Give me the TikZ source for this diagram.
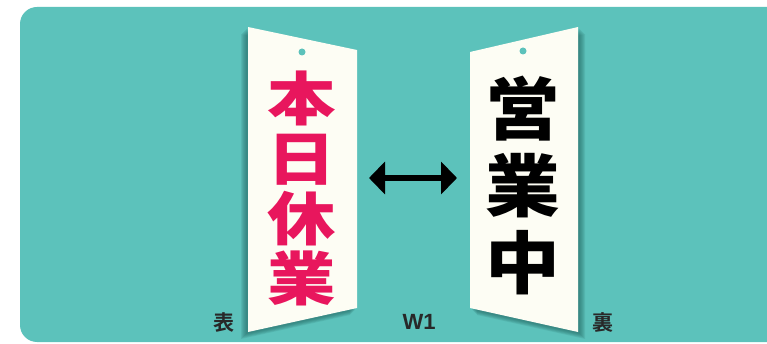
\documentclass[tikz,border=0pt]{standalone}
\usepackage{fontspec}
\usetikzlibrary{arrows.meta}
\usetikzlibrary{positioning}
\newfontfamily\signfont{Noto Sans CJK JP Black}[FakeStretch=1.18]
\newfontfamily\signfontb{Noto Sans CJK JP Black}[FakeStretch=1.1]
\newfontfamily\jpfont{Noto Sans CJK JP Bold}
\newfontfamily\labelfont{Liberation Sans}
\definecolor{panelteal}{RGB}{92,194,187}
\definecolor{shadowteal}{RGB}{30,95,90}
\definecolor{cardwhite}{RGB}{253,253,244}
\definecolor{signred}{RGB}{232,22,93}
\definecolor{inkgray}{RGB}{40,40,40}

\begin{document}
\begin{tikzpicture}[x=1pt,y=-1pt]
\useasboundingbox (0,0) rectangle (767,344);
\fill[white] (0,0) rectangle (767,344);
\begin{scope}
\clip (0,0) rectangle (767,344);
\fill[panelteal,rounded corners=17pt] (20,7) rectangle (800,342);
\end{scope}

% the two faces of the sign
\coordinate (ftl) at (248,27);
\coordinate (ftr) at (357,50);
\coordinate (fbr) at (357,308);
\coordinate (fbl) at (248,332);
\coordinate (btl) at (470,52);
\coordinate (btr) at (578,27);
\coordinate (bbr) at (578,332);
\coordinate (bbl) at (470,308);

\foreach \d in {2,...,7}{
  \fill[shadowteal,opacity=.12]
    ([shift={(-\d,\d)}]ftl)--([shift={(-\d,\d)}]ftr)--([shift={(-\d,\d)}]fbr)--([shift={(-\d,\d)}]fbl)--cycle;
  \fill[shadowteal,opacity=.12]
    ([shift={(\d,\d)}]btl)--([shift={(\d,\d)}]btr)--([shift={(\d,\d)}]bbr)--([shift={(\d,\d)}]bbl)--cycle;
}
\fill[cardwhite] (ftl)--(ftr)--(fbr)--(fbl)--cycle;
\fill[cardwhite] (btl)--(btr)--(bbr)--(bbl)--cycle;
\fill[panelteal] (302,52) circle(3.5);
\fill[panelteal] (523,51) circle(3.5);

\node[text=signred,font=\signfont\fontsize{58}{60}\selectfont,align=center,inner sep=0]
  (front) at (302,188) {本\\日\\休\\業};
\node[text=black,font=\signfontb\fontsize{68}{77}\selectfont,align=center,inner sep=0]
  (back) at (523,185) {営\\業\\中};

\coordinate (fronttip) at (369,178);
\coordinate (backtip) at (457,178);
\draw[line width=6pt,{Triangle[width=32pt,length=16pt]}-{Triangle[width=32pt,length=16pt]}]
  (fronttip) -- (backtip);

\node[text=inkgray,font=\jpfont\fontsize{21}{21}\selectfont] (omote) at (224,322) {表};
\node[text=inkgray,font=\jpfont\fontsize{21}{21}\selectfont] (ura) at (603,322) {裏};
\node[text=inkgray,font=\labelfont\bfseries\fontsize{22}{22}\selectfont] (size) at (419,322) {W1};

\end{tikzpicture}
\end{document}
